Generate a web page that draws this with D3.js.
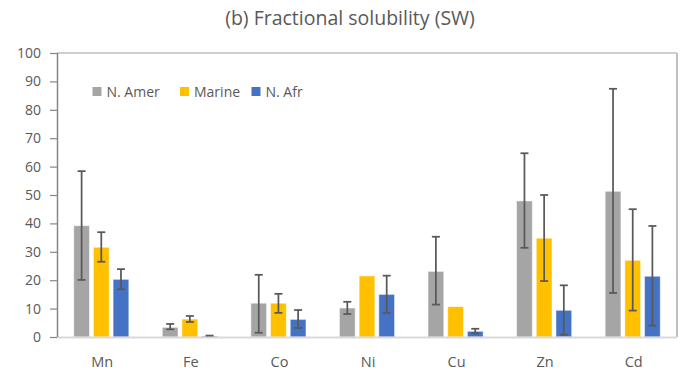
<!DOCTYPE html>
<html><head><meta charset="utf-8">
<script src="https://cdn.jsdelivr.net/npm/d3@7"></script>
<style>body{margin:0;background:#fff}svg{display:block;font-family:"Open Sans",sans-serif}</style>
</head><body><svg id="c" width="686" height="375"></svg>
<script>
const categories = ["Mn","Fe","Co","Ni","Cu","Zn","Cd"];
const seriesNames = ["N. Amer","Marine","N. Afr"];
const seriesColors = ["#A5A5A5","#FFC000","#4472C4"];
const amerValues = [39.2,3.4,11.9,10.2,23.1,47.9,51.3];
const amerHigh   = [58.4,4.6,21.9,12.4,35.3,64.7,87.4];
const amerLow    = [20.1,2.7,1.5,8.1,11.4,31.4,15.5];
const marineValues = [31.6,6.3,11.9,21.5,10.7,34.8,27.0];
const marineHigh   = [36.9,7.4,15.2,null,null,50.0,45.0];
const marineLow    = [26.5,5.3,8.5,null,null,19.7,9.3];
const afrValues = [20.3,0.3,6.2,15.0,2.0,9.4,21.4];
const afrHigh   = [23.9,0.5,9.5,21.6,2.9,18.2,39.1];
const afrLow    = [16.8,0.1,3.2,8.5,1.3,0.8,4.0];
const yTicks = [0,10,20,30,40,50,60,70,80,90,100];
const title = "(b) Fractional solubility (SW)";

const series = [
  {name:seriesNames[0], color:seriesColors[0], v:amerValues, hi:amerHigh, lo:amerLow},
  {name:seriesNames[1], color:seriesColors[1], v:marineValues, hi:marineHigh, lo:marineLow},
  {name:seriesNames[2], color:seriesColors[2], v:afrValues, hi:afrHigh, lo:afrLow}
];

const svg = d3.select("#c");
const L = 57, R = 677, T = 53, B = 337;
const x = d3.scaleBand().domain(categories).range([L,R]).paddingInner(0).paddingOuter(0);
const xs = d3.scaleBand().domain(seriesNames).range([0,x.bandwidth()]).paddingInner(0.2).paddingOuter(0.85);
const y = d3.scaleLinear().domain([0,100]).range([B,T]);

// title
svg.append("text").attr("x",350).attr("y",25).attr("text-anchor","middle")
  .attr("font-size",19.5).attr("fill","#595959").text(title);

// plot border top & right
svg.append("line").attr("x1",L).attr("x2",R).attr("y1",T).attr("y2",T).attr("stroke","#BFBFBF").attr("stroke-width",1.5);
svg.append("line").attr("x1",R).attr("x2",R).attr("y1",T).attr("y2",B).attr("stroke","#BFBFBF").attr("stroke-width",2);

// bars
const g = svg.append("g");
series.forEach(s=>{
  categories.forEach((c,i)=>{
    const bx = x(c)+xs(s.name);
    g.append("rect").attr("x",bx).attr("y",y(s.v[i])).attr("width",xs.bandwidth())
      .attr("height",y(0)-y(s.v[i])).attr("fill",s.color)
      .attr("stroke","#fff").attr("stroke-opacity",0.5).attr("stroke-width",1);
  });
});
// error bars
series.forEach(s=>{
  categories.forEach((c,i)=>{
    if(s.hi[i]==null) return;
    const cx = x(c)+xs(s.name)+xs.bandwidth()/2;
    const e = g.append("g").attr("stroke","#595959").attr("stroke-width",1.75);
    e.append("line").attr("x1",cx).attr("x2",cx).attr("y1",y(s.hi[i])).attr("y2",y(s.lo[i]));
    [s.hi[i],s.lo[i]].forEach(v=>e.append("line").attr("x1",cx-4).attr("x2",cx+4).attr("y1",y(v)).attr("y2",y(v)));
  });
});

// x axis baseline
svg.append("line").attr("x1",L).attr("x2",R).attr("y1",B+0.5).attr("y2",B+0.5).attr("stroke","#D9D9D9").attr("stroke-width",2);
const xa = svg.append("g").attr("transform",`translate(0,${B})`)
  .call(d3.axisBottom(x).tickSize(0).tickPadding(20));
xa.select(".domain").remove();
xa.selectAll("text").attr("font-size",14.5).attr("fill","#595959").attr("font-family","Open Sans, sans-serif").attr("dx",1);

// y axis
const ya = svg.append("g").attr("transform",`translate(${L},0)`)
  .call(d3.axisLeft(y).tickValues(yTicks).tickSize(7).tickPadding(9));
ya.select(".domain").attr("stroke","#868686").attr("stroke-width",1.5).attr("d",`M0.5,${T}V${B}`);
ya.selectAll(".tick line").attr("stroke","#868686").attr("stroke-width",1.2);
ya.selectAll("text").attr("font-size",14).attr("fill","#595959").attr("font-family","Open Sans, sans-serif");

// legend
const legX = [92.5,180,251.5];
series.forEach((s,i)=>{
  svg.append("rect").attr("x",legX[i]).attr("y",87).attr("width",9).attr("height",9).attr("fill",s.color);
  svg.append("text").attr("x",legX[i]+14).attr("y",96.5).attr("font-size",14).attr("fill","#595959").text(s.name);
});
</script></body></html>
